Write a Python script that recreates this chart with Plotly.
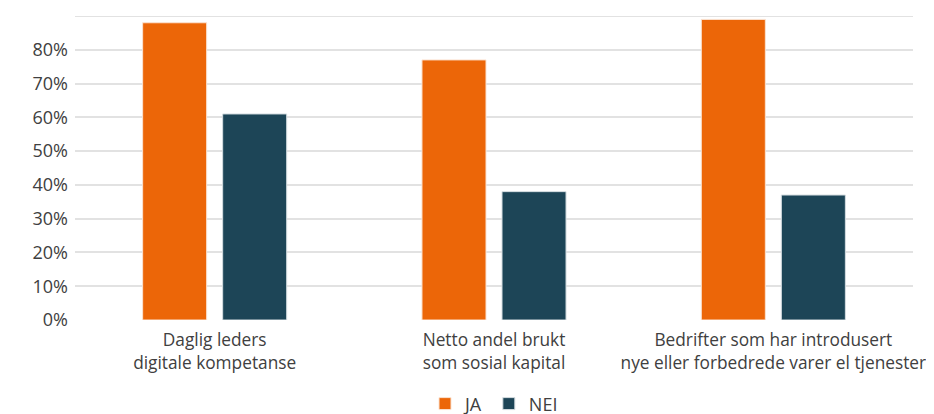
import plotly.graph_objects as go

categories = [
    "Daglig leders<br>digitale kompetanse",
    "Netto andel brukt<br>som sosial kapital",
    "Bedrifter som har introdusert<br>nye eller forbedrede varer el tjenester",
]
ja_values = [88, 77, 89]
nei_values = [61, 38, 37]
tick_values = [0, 10, 20, 30, 40, 50, 60, 70, 80]
tick_labels = [f"{v}%" for v in tick_values]

ORANGE = "#EC6608"
TEAL = "#1D4557"
GRID = "#E2E2E2"
TEXT = "#404040"
FONT = "Open Sans"

fig = go.Figure()
fig.add_trace(go.Bar(
    name="JA", x=categories, y=ja_values,
    marker=dict(color=ORANGE, line=dict(color="#FBE3D2", width=1)),
))
fig.add_trace(go.Bar(
    name="NEI", x=categories, y=nei_values,
    marker=dict(color=TEAL, line=dict(color="#D5DDE1", width=1)),
))

# top gridline at 90% has no label in the original
fig.add_shape(type="line", xref="paper", yref="y", x0=0, x1=1, y0=90, y1=90,
              line=dict(color=GRID, width=2), layer="below")

fig.update_layout(
    width=934, height=414,
    margin=dict(l=67, r=29, t=8, b=102, autoexpand=False),
    paper_bgcolor="white", plot_bgcolor="white",
    font=dict(family=FONT, size=18, color=TEXT),
    barmode="group", bargap=0.427, bargroupgap=0.2,
    showlegend=True,
    legend=dict(orientation="h", x=0.5, xanchor="center", y=-0.276, yanchor="middle",
                font=dict(family=FONT, size=18, color=TEXT), itemwidth=30,
                traceorder="normal"),
    xaxis=dict(showgrid=False, showline=False, ticks="", ticklabelstandoff=8,
               tickfont=dict(family=FONT, size=17.3, color=TEXT)),
    yaxis=dict(range=[0, 90], tickvals=tick_values, ticktext=tick_labels,
               showgrid=True, gridcolor=GRID, gridwidth=2, zeroline=False,
               showline=False, ticks="", ticklabelstandoff=6,
               tickfont=dict(family=FONT, size=18, color=TEXT)),
)

fig.write_html("out.html")
